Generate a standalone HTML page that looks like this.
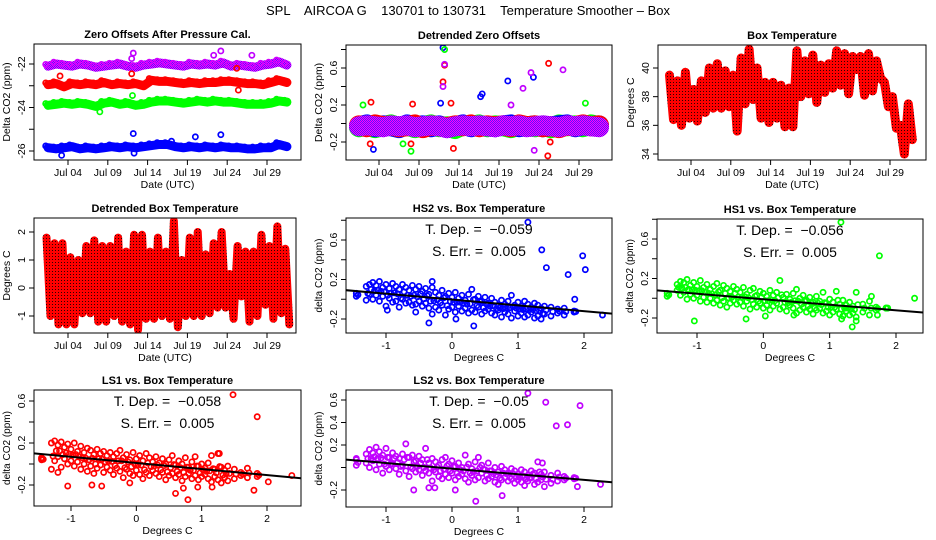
<!DOCTYPE html>
<html><head><meta charset="utf-8"><style>
html,body{margin:0;padding:0;background:#fff;}
svg{display:block;font-family:"Liberation Sans",sans-serif;}
text{white-space:pre;}
</style></head><body>
<svg id="c" width="936" height="540" viewBox="0 0 936 540">
<defs>
<pattern id="pPurple" width="2" height="2" patternUnits="userSpaceOnUse"><rect width="2" height="2" fill="#ff00ff"/><rect width="1" height="1" fill="#6010ff"/><rect x="1" y="1" width="1" height="1" fill="#6010ff"/></pattern>
<pattern id="pRedBlk" width="3" height="3" patternUnits="userSpaceOnUse"><rect width="3" height="3" fill="#ff0000"/><rect x="1" y="1" width="1" height="1" fill="#300000"/></pattern>
</defs>
<text x="468" y="15" text-anchor="middle" font-size="13" xml:space="preserve">SPL    AIRCOA G    130701 to 130731    Temperature Smoother – Box</text>
</svg>
<script>
const days=[1,2,3,4,5,6,7,8,9,10,11,12,13,14,15,16,17,18,19,20,21,22,23,24,25,26,27,28,29,30,31];
const dateTicks=[4,9,14,19,24,29];
const dateTickLabels=["Jul 04","Jul 09","Jul 14","Jul 19","Jul 24","Jul 29"];
// Panel 1 zero offsets
const zoPurple=[-22.1,-22.0,-22.05,-22.1,-22.0,-22.05,-22.15,-22.1,-22.05,-22.0,-22.1,-22.15,-22.05,-22.0,-21.95,-22.0,-22.05,-22.1,-22.0,-22.05,-22.0,-22.05,-21.95,-22.1,-22.05,-22.1,-22.15,-22.05,-22.0,-21.9,-22.05];
const zoRed=[-22.95,-22.9,-23.05,-22.9,-22.95,-22.9,-22.95,-22.85,-22.95,-22.9,-22.95,-22.9,-23.0,-22.75,-22.8,-22.8,-22.85,-22.9,-22.85,-22.9,-22.85,-22.85,-22.8,-22.8,-22.85,-22.9,-22.9,-22.95,-22.85,-22.75,-22.85];
const zoGreen=[-23.9,-23.85,-23.8,-23.85,-23.8,-23.85,-23.95,-23.8,-23.75,-23.85,-23.8,-23.9,-23.85,-23.75,-23.7,-23.7,-23.75,-23.8,-23.75,-23.7,-23.75,-23.7,-23.75,-23.75,-23.8,-23.85,-23.85,-23.85,-23.8,-23.7,-23.75];
const zoBlue=[-25.85,-25.9,-25.85,-25.8,-25.9,-25.85,-25.9,-25.85,-25.8,-25.85,-25.8,-25.85,-25.8,-25.75,-25.7,-25.7,-25.8,-25.85,-25.8,-25.85,-25.8,-25.85,-25.8,-25.85,-25.85,-25.9,-25.9,-25.85,-25.85,-25.7,-25.8];
const zoOutT=[12.2,12.0,22.3,23.2,27.1,12.0,25.2,3.0,25.4,12.1,8.0,12.2,20.0,23.2,3.2,12.3,17.0];
const zoOutV=[-21.5,-21.75,-21.6,-21.4,-21.6,-22.45,-22.2,-22.55,-23.2,-23.45,-24.2,-25.2,-25.35,-25.25,-26.2,-26.1,-25.55];
const zoOutC=["#c000ff","#c000ff","#c000ff","#c000ff","#c000ff","#ff0000","#ff0000","#ff0000","#ff0000","#00ff00","#00ff00","#0000ff","#0000ff","#0000ff","#0000ff","#0000ff","#0000ff"];
// Panel 2 detrended
const dzGreen=[-0.04,-0.02,-0.05,-0.03,-0.01,-0.04,-0.02,-0.05,-0.03,-0.01,-0.04,-0.03,-0.06,-0.02,-0.03,-0.01,-0.04,-0.02,-0.03,-0.05,-0.02,-0.03,-0.04,-0.02,-0.05,-0.01,-0.03,-0.02,-0.04,-0.01,-0.03];
const dzBlue=[-0.03,-0.01,-0.04,-0.02,-0.03,-0.05,-0.01,-0.03,-0.02,-0.04,-0.02,-0.05,-0.03,-0.01,-0.04,-0.02,-0.03,-0.04,-0.02,-0.01,-0.04,-0.03,-0.02,-0.04,-0.03,-0.02,-0.01,-0.04,-0.02,-0.03,-0.02];
const dzRed=[-0.02,-0.04,-0.01,-0.03,-0.02,-0.04,-0.03,-0.01,-0.05,-0.02,-0.03,-0.04,-0.02,-0.03,-0.01,-0.04,-0.02,-0.03,-0.02,-0.04,-0.01,-0.03,-0.02,-0.04,-0.03,-0.05,-0.02,-0.03,-0.01,-0.03,-0.02];
const dzPurple=[-0.03,-0.02,-0.03,-0.04,-0.02,-0.03,-0.02,-0.04,-0.03,-0.02,-0.03,-0.05,-0.03,-0.02,-0.03,-0.02,-0.03,-0.04,-0.02,-0.03,-0.02,-0.04,-0.03,-0.02,-0.03,-0.04,-0.02,-0.03,-0.02,-0.03,-0.04];
const dzOutT=[12.0,20.1,23.3,16.9,16.7,11.7,3.3,12.0,12.2,3.0,13.3,25.2,25.4,25.1,2.9,8.0,8.2,13.0,12.2,8.0,2.0,7.0,29.8,12.0,12.2,22.0,23.0,27.0,20.5,23.4];
const dzOutV=[0.82,0.46,0.5,0.32,0.29,0.22,-0.28,0.45,0.63,0.23,-0.27,0.65,-0.2,-0.35,-0.22,-0.22,0.21,0.22,0.8,-0.3,0.2,-0.22,0.22,0.4,0.64,0.38,0.55,0.58,0.2,-0.29];
const dzOutC=["#0000ff","#0000ff","#0000ff","#0000ff","#0000ff","#0000ff","#0000ff","#ff0000","#ff0000","#ff0000","#ff0000","#ff0000","#ff0000","#ff0000","#ff0000","#ff0000","#ff0000","#ff0000","#00ff00","#00ff00","#00ff00","#00ff00","#00ff00","#c000ff","#c000ff","#c000ff","#c000ff","#c000ff","#c000ff","#c000ff"];
// Panel 3 box temperature daily max/min
const btMax=[39.5,39.1,39.7,38.5,39.1,40.0,40.3,39.8,39.5,40.7,41.3,40.0,39.0,39.0,38.8,38.6,41.2,40.5,40.9,40.2,40.3,41.2,41.0,40.8,40.8,41.0,40.5,39.0,38.0,36.0,37.5];
const btMin=[36.4,36.0,36.5,36.3,36.9,37.2,37.2,37.3,35.6,37.5,37.8,36.5,36.2,36.5,35.9,35.9,38.0,38.2,37.6,38.3,38.6,38.8,38.2,39.9,38.1,38.4,39.3,37.3,35.8,34.0,35.0];
// Panel 4 detrended box temperature
const dbMax=[1.8,1.6,1.6,1.1,1.0,1.5,1.7,1.5,1.5,1.8,1.3,1.9,1.9,1.3,1.8,1.3,2.4,1.0,1.8,2.0,1.2,1.6,2.0,0.5,1.5,1.3,1.3,1.9,1.5,2.2,1.4];
const dbMin=[-1.0,-1.3,-1.3,-1.3,-0.9,-0.9,-1.2,-1.2,-1.0,-1.2,-1.3,-1.5,-1.1,-1.1,-1.0,-1.1,-1.4,-1.0,-1.0,-1.0,-0.9,-0.7,-0.7,-1.1,-0.3,-1.2,-1.0,-0.6,-1.1,-0.9,-1.3];
// Scatter panels: shared box temperature values
const tempX=[-1.45,-1.3,-1.25,-1.2,-1.15,-1.1,-1.05,-1.0,-0.95,-0.9,-0.85,-0.8,-0.75,-0.7,-0.65,-0.6,-0.55,-0.5,-0.45,-0.4,-0.35,-0.3,-0.25,-0.2,-0.15,-0.1,-0.05,0.0,0.05,0.1,0.15,0.2,0.25,0.3,0.35,0.4,0.45,0.5,0.55,0.6,0.65,0.7,0.75,0.8,0.85,0.9,0.95,1.0,1.05,1.1,1.15,1.2,1.25,1.3,1.35,1.4,1.5,1.6,1.7,1.85];
const hs2A=[0.06,0.13,0.15,0.17,0.14,0.18,0.12,0.15,0.11,0.16,0.13,0.10,0.15,0.12,0.09,0.14,0.10,0.13,0.08,0.11,0.05,0.12,0.07,0.04,0.09,0.03,0.06,0.02,0.07,0.01,0.04,-0.01,0.05,0.10,0.0,0.03,-0.02,0.02,-0.04,0.01,-0.03,-0.06,-0.01,-0.05,-0.02,0.04,-0.06,-0.03,-0.07,-0.02,-0.05,-0.08,-0.04,-0.06,-0.09,-0.07,-0.08,-0.10,-0.09,-0.12];
const hs2B=[0.03,-0.01,0.05,0.0,0.04,-0.02,0.03,-0.07,0.01,-0.03,-0.02,-0.08,0.0,-0.04,-0.03,-0.06,-0.05,-0.02,-0.07,-0.04,-0.09,-0.15,-0.08,-0.11,-0.06,-0.16,-0.10,-0.08,-0.13,-0.07,-0.12,-0.09,-0.14,-0.11,-0.13,-0.08,-0.15,-0.12,-0.10,-0.14,-0.16,-0.11,-0.18,-0.13,-0.15,-0.19,-0.12,-0.17,-0.14,-0.18,-0.16,-0.13,-0.19,-0.17,-0.2,-0.15,-0.17,-0.14,-0.16,-0.13];
const hs2OutX=[1.15,1.36,1.43,1.98,2.02,1.76,1.86,2.28,0.33,0.06,-0.35,-0.98,-0.55,-0.3];
const hs2OutY=[0.78,0.5,0.32,0.44,0.3,0.25,0.0,-0.16,-0.27,-0.2,-0.24,-0.11,-0.13,0.18];
const hs1A=[0.05,0.14,0.17,0.16,0.19,0.13,0.16,0.12,0.18,0.11,0.14,0.09,0.12,0.15,0.08,0.13,0.10,0.07,0.12,0.09,0.06,0.11,0.04,0.08,0.10,0.03,0.07,0.05,0.02,0.08,0.03,0.06,0.18,0.01,0.04,-0.01,0.05,0.09,0.0,0.03,-0.02,0.01,-0.04,0.02,-0.03,0.06,-0.05,-0.01,-0.04,0.07,-0.06,-0.02,-0.07,-0.04,-0.08,0.06,-0.06,-0.03,-0.09,-0.1];
const hs1B=[0.02,0.08,0.03,0.06,-0.01,0.04,0.0,0.03,-0.03,0.01,-0.04,0.0,-0.05,-0.02,-0.07,-0.03,-0.09,-0.05,-0.02,-0.06,-0.04,-0.08,-0.03,-0.11,-0.06,-0.09,-0.05,-0.1,-0.07,-0.12,-0.08,-0.05,-0.11,-0.09,-0.13,-0.07,-0.1,-0.15,-0.12,-0.09,-0.14,-0.11,-0.16,-0.12,-0.1,-0.15,-0.13,-0.17,-0.14,-0.11,-0.16,-0.18,-0.13,-0.17,-0.15,-0.19,-0.14,-0.17,-0.12,-0.1];
const hs1OutX=[1.17,1.75,2.28,1.34,1.4,1.18,-1.04,-0.26,0.03,0.46,1.63,1.72];
const hs1OutY=[0.77,0.43,0.0,-0.29,-0.23,-0.21,-0.23,-0.21,-0.18,-0.17,0.02,-0.17];
const ls1A=[0.05,0.2,0.22,0.18,0.21,0.16,0.19,0.14,0.2,0.12,0.17,0.11,0.15,0.13,0.09,0.14,0.1,0.12,0.08,0.11,0.07,0.1,0.13,0.06,0.09,0.04,0.11,0.05,0.08,0.03,0.1,0.06,0.02,0.07,0.01,0.05,0.0,0.04,0.08,-0.01,0.03,0.0,0.06,-0.03,0.02,0.07,-0.02,0.0,-0.04,0.01,0.08,-0.05,0.1,-0.03,-0.06,-0.02,-0.05,-0.08,-0.04,-0.09];
const ls1B=[0.04,-0.05,0.03,0.07,-0.03,0.05,0.0,0.03,-0.02,0.02,-0.05,0.0,-0.07,-0.02,-0.09,-0.04,-0.01,-0.08,-0.03,-0.06,-0.1,-0.04,-0.07,-0.13,-0.05,-0.09,-0.11,-0.06,-0.1,-0.14,-0.08,-0.11,-0.06,-0.09,-0.12,-0.08,-0.15,-0.11,-0.09,-0.13,-0.1,-0.16,-0.12,-0.09,-0.14,-0.11,-0.15,-0.12,-0.1,-0.14,-0.17,-0.12,-0.15,-0.18,-0.13,-0.16,-0.14,-0.11,-0.13,-0.12];
const ls1OutX=[1.48,1.85,1.8,2.02,2.38,0.6,0.72,0.79,0.94,1.16,-1.05,-0.68,-0.53,-0.1,1.27,-1.45,-1.2];
const ls1OutY=[0.66,0.45,-0.25,-0.17,-0.11,-0.28,-0.23,-0.34,-0.22,-0.22,-0.21,-0.2,-0.21,-0.18,0.1,0.06,-0.08];
const ls2A=[0.07,0.12,0.16,0.13,0.18,0.14,0.11,0.17,0.09,0.13,0.1,0.08,0.12,0.21,0.09,0.11,0.06,0.1,0.07,0.17,0.04,0.08,0.05,0.02,0.07,0.09,0.03,0.06,0.01,0.04,0.0,0.11,0.03,-0.01,0.05,0.09,0.02,-0.02,0.04,-0.03,0.0,-0.04,0.01,-0.02,-0.05,-0.01,-0.03,-0.06,-0.02,-0.04,-0.07,-0.03,-0.05,0.05,-0.06,-0.04,-0.07,-0.05,-0.08,-0.09];
const ls2B=[0.02,0.04,0.0,0.06,-0.02,0.03,-0.05,0.01,-0.02,0.03,-0.01,-0.06,0.02,-0.03,-0.08,-0.01,-0.04,-0.02,-0.07,-0.03,-0.05,-0.12,-0.04,-0.08,-0.1,-0.06,-0.09,-0.05,-0.11,-0.08,-0.06,-0.1,-0.13,-0.07,-0.11,-0.09,-0.05,-0.12,-0.1,-0.08,-0.13,-0.15,-0.11,-0.09,-0.12,-0.1,-0.14,-0.11,-0.13,-0.16,-0.12,-0.09,-0.15,-0.13,-0.11,-0.17,-0.14,-0.12,-0.11,-0.1];
const ls2OutX=[1.15,1.42,1.58,1.75,1.94,2.25,1.9,0.36,0.76,0.05,-0.58,-0.35,-0.26,-1.45,1.37];
const ls2OutY=[0.66,0.58,0.37,0.38,0.55,-0.15,-0.17,-0.3,-0.25,-0.2,-0.2,-0.18,-0.18,0.08,0.04];
const fitSlope=[-0.059,-0.056,-0.058,-0.05];
const fitIntercept=[-0.003,-0.01,0.01,-0.01];
const fitDepText=["\u22120.059","\u22120.056","\u22120.058","\u22120.05"];
const fitErrText=["0.005","0.005","0.005","0.005"];
const tempTicks=[-1,0,1,2];

const NS="http://www.w3.org/2000/svg";
const svg=document.getElementById('c');
function el(tag,attrs,parent,txt){const e=document.createElementNS(NS,tag);for(const k in attrs)e.setAttribute(k,attrs[k]);if(txt!==undefined)e.textContent=txt;(parent||svg).appendChild(e);return e;}
function lin(v1,p1,v2,p2){return v=>p1+(v-v1)*(p2-p1)/(v2-v1);}

function panel(o){
  const g=el('g',{});
  
  
  const sx=lin(o.xc[0],o.xc[1],o.xc[2],o.xc[3]);
  const sy=lin(o.yc[0],o.yc[1],o.yc[2],o.yc[3]);
  const t=el('text',{x:(o.L+o.R)/2,y:o.T-6,'text-anchor':'middle','font-size':11,'font-weight':'bold'},g,o.title);
  
  
  const clipId='clip-'+o.name;
  const cp=el('clipPath',{id:clipId},g);el('rect',{x:o.L,y:o.T,width:o.R-o.L,height:o.B-o.T},cp);
  const plot=el('g',{'clip-path':'url(#'+clipId+')'},g);
  
  
  const box=el('rect',{x:o.L,y:o.T,width:o.R-o.L,height:o.B-o.T,fill:'none',stroke:'#000','stroke-width':1},g);
  
  
  o.xticks.forEach((v,i)=>{const x=sx(v);
    el('line',{x1:x,x2:x,y1:o.B,y2:o.B+5,stroke:'#000'},g);
    const tl=el('text',{x:x,y:o.B+16,'text-anchor':'middle','font-size':10.5},g,o.xlabels[i]);
    
    });
  o.yticks.forEach((v,i)=>{const y=sy(v);
    el('line',{x1:o.L-5,x2:o.L,y1:y,y2:y,stroke:'#000'},g);
    if(o.ylabels[i]!==''){const tl=el('text',{x:0,y:0,'text-anchor':'middle','font-size':10.5,transform:`translate(${o.L-9},${y}) rotate(-90)`},g,o.ylabels[i]);
    
    }});
  const xt=el('text',{x:(o.L+o.R)/2,y:o.B+28,'text-anchor':'middle','font-size':10.5},g,o.xtitle);
  
  
  const yt=el('text',{x:0,y:0,'text-anchor':'middle','font-size':o.ytsize||10.5,transform:`translate(${o.L-24},${(o.T+o.B)/2}) rotate(-90)`},g,o.ytitle);
  
  
  return {g:plot,sx,sy};
}
function pt(p,x,y,color,name){
  const c=el('circle',{cx:x,cy:y,r:2.6,fill:'none',stroke:color,'stroke-width':1.7},p);
  
  
}
function band(p,pts,stroke,w,name){
  const pl=el('polyline',{points:pts.map(a=>a.join(',')).join(' '),fill:'none',stroke:stroke,'stroke-width':w,'stroke-linejoin':'round','stroke-linecap':'round'},p);
  
  
}
const dateCommon={xticks:dateTicks,xlabels:dateTickLabels,xtitle:'Date (UTC)'};

// Panel 1
(function(){
  const P=panel(Object.assign({name:'zero-offsets-panel',title:'Zero Offsets After Pressure Cal.',L:34,R:301,T:44,B:160,xc:[4,68,29,267],yc:[-22,64,-26,151],yticks:[-26,-25,-24,-23,-22],ylabels:['-26','','-24','','-22'],ytitle:'Delta CO2 (ppm)'},dateCommon));
  [[zoBlue,'#0000ff','blue-series'],[zoGreen,'#00ff00','green-series'],[zoRed,'#ff0000','red-series'],[zoPurple,'url(#pPurple)','purple-series']].forEach(s=>{
    band(P.g,s[0].map((v,i)=>[P.sx(days[i]+0.5),P.sy(v)]),s[1],9,s[2]);
    s[0].forEach((v,i)=>pt(P.g,P.sx(days[i]+0.2),P.sy(v+0.08),s[1]==='url(#pPurple)'?'#d000ff':s[1],'point'));
  });
  zoOutT.forEach((t,i)=>pt(P.g,P.sx(t),P.sy(zoOutV[i]),zoOutC[i],'outlier-point'));
})();
// Panel 2
(function(){
  const P=panel(Object.assign({name:'detrended-zero-offsets-panel',title:'Detrended Zero Offsets',L:346,R:612,T:45,B:160,xc:[4,379,29,579],yc:[0.6,68,-0.2,142],yticks:[-0.2,0,0.2,0.4,0.6,0.8],ylabels:['-0.2','','0.2','','0.6',''],ytitle:'Delta CO2 (ppm)'},dateCommon));
  [[dzGreen,'#00ff00'],[dzBlue,'#0000ff'],[dzRed,'#ff0000'],[dzPurple,'url(#pPurple)']].forEach(s=>{
    band(P.g,s[0].map((v,i)=>[P.sx(days[i]+0.5),P.sy(v)]),s[1],20,'detrended-band');
  });
  dzOutT.forEach((t,i)=>pt(P.g,P.sx(t),P.sy(dzOutV[i]),dzOutC[i],'outlier-point'));
})();
// Panel 3
(function(){
  const P=panel(Object.assign({name:'box-temperature-panel',title:'Box Temperature',L:658,R:926,T:45,B:160,xc:[4,691,29,890],yc:[40,68,34,154],yticks:[34,36,38,40],ylabels:['34','36','38','40'],ytitle:'Degrees C'},dateCommon));
  const pts=[];days.forEach((d,i)=>{pts.push([P.sx(d+0.3),P.sy(btMax[i])]);pts.push([P.sx(d+0.8),P.sy(btMin[i])]);});
  band(P.g,pts,'url(#pRedBlk)',9,'box-temperature-line');
})();
// Panel 4
(function(){
  const P=panel(Object.assign({name:'detrended-box-temperature-panel',title:'Detrended Box Temperature',L:34,R:296,T:218,B:333,xc:[4,68,29,267],yc:[2,232,-1,316],yticks:[-1,0,1,2],ylabels:['-1','0','1','2'],ytitle:'Degrees C'},dateCommon));
  const pts=[];days.forEach((d,i)=>{pts.push([P.sx(d+0.3),P.sy(dbMax[i])]);pts.push([P.sx(d+0.8),P.sy(dbMin[i])]);});
  band(P.g,pts,'url(#pRedBlk)',8,'detrended-temperature-line');
})();
// Scatter panels
function scatter(o,A,B,OX,OY,color,k){
  const P=panel(Object.assign({xticks:tempTicks,xlabels:['-1','0','1','2'],xtitle:'Degrees C',ytitle:'delta CO2 (ppm)',ytsize:10},o));
  tempX.forEach((x,i)=>{pt(P.g,P.sx(x),P.sy(A[i]),color,'point');pt(P.g,P.sx(x),P.sy(B[i]),color,'point');
    pt(P.g,P.sx(x+0.025),P.sy((A[i]+B[i])/2),color,'point');});
  OX.forEach((x,i)=>pt(P.g,P.sx(x),P.sy(OY[i]),color,'outlier-point'));
  const x0=-2,x1=3;
  const ln=el('line',{x1:P.sx(x0),y1:P.sy(fitIntercept[k]+fitSlope[k]*x0),x2:P.sx(x1),y2:P.sy(fitIntercept[k]+fitSlope[k]*x1),stroke:'#000','stroke-width':2},P.g);
  
  
  const cx=(o.L+o.R)/2;
  const t1=el('text',{x:cx,y:o.T+16,'text-anchor':'middle','font-size':14},svg,'T. Dep. =  '+fitDepText[k]);
  
  
  const t2=el('text',{x:cx,y:o.T+38,'text-anchor':'middle','font-size':14},svg,'S. Err. =  '+fitErrText[k]);
  
  
}
scatter({name:'hs2-scatter-panel',title:'HS2 vs. Box Temperature',L:346,R:612,T:218,B:333,xc:[-1,386,2,584],yc:[0.6,240,-0.2,319],yticks:[-0.2,0,0.2,0.4,0.6,0.8],ylabels:['-0.2','','0.2','','0.6','']},hs2A,hs2B,hs2OutX,hs2OutY,'#0000ff',0);
scatter({name:'hs1-scatter-panel',title:'HS1 vs. Box Temperature',L:657,R:923,T:219,B:333,xc:[-1,697,2,896],yc:[0.6,239,-0.2,318],yticks:[-0.2,0,0.2,0.4,0.6,0.8],ylabels:['-0.2','','0.2','','0.6','']},hs1A,hs1B,hs1OutX,hs1OutY,'#00ff00',1);
scatter({name:'ls1-scatter-panel',title:'LS1 vs. Box Temperature',L:34,R:301,T:390,B:506,xc:[-1,71,2,267],yc:[0.6,401,-0.2,485],yticks:[-0.2,0,0.2,0.4,0.6],ylabels:['-0.2','','0.2','','0.6']},ls1A,ls1B,ls1OutX,ls1OutY,'#ff0000',2);
scatter({name:'ls2-scatter-panel',title:'LS2 vs. Box Temperature',L:346,R:612,T:390,B:507,xc:[-1,386,2,584],yc:[0.6,400,-0.2,490],yticks:[-0.2,0,0.2,0.4,0.6],ylabels:['-0.2','','0.2','0.4','0.6']},ls2A,ls2B,ls2OutX,ls2OutY,'#c000ff',3);
</script>
</body></html>
